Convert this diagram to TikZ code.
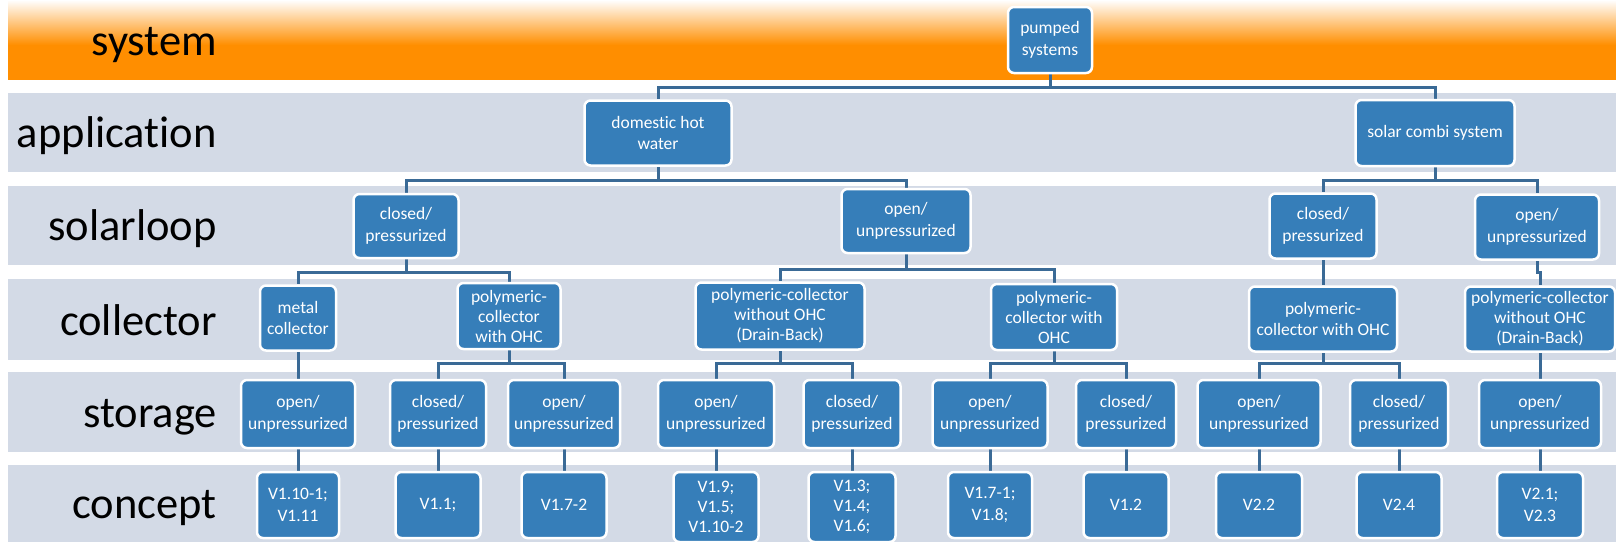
\documentclass[tikz,border=0pt]{standalone}
\usepackage{fontspec}
\setmainfont{Carlito}[Ligatures={NoCommon,NoRequired,NoContextual}]
\pgfdeclarelayer{background}
\pgfsetlayers{background,main}
\definecolor{bandc}{RGB}{211,218,230}
\definecolor{orangec}{RGB}{255,142,0}
\definecolor{boxc}{RGB}{54,126,185}
\definecolor{linec}{RGB}{58,106,150}
\tikzset{
 box/.style={draw=white, line width=2.5pt, fill=boxc, rounded corners=6pt, text=white, align=center, inner sep=1pt, font=\fontsize{17.5}{21.5}\selectfont},
 tight/.style={font=\fontsize{17.5}{20}\selectfont},
 conn/.style={draw=linec, line width=3pt},
 lbl/.style={anchor=base east, font=\fontsize{44.5}{50}\selectfont, inner sep=0pt, text=black},
 band/.style={fill=bandc},
}
\newcommand\bx[7][]{\node[box, #1, minimum width=#5pt, minimum height=#6pt] (#2) at (#3,#4) {#7};}
\newcommand\cn[3]{\draw[conn] (#1.south) -- (#1.south |- 0,#3) -| (#2.north);}
\begin{document}
\begin{tikzpicture}[x=1pt,y=-1pt]
\useasboundingbox (0,0) rectangle (1616,542);
\begin{pgfonlayer}{background}
\shade[top color=white, bottom color=orangec] (8,0) rectangle (1616,45);
\fill[orangec] (8,44.5) rectangle (1616,80);
\fill[band] (8,93) rectangle (1616,172);
\fill[band] (8,186) rectangle (1616,265);
\fill[band] (8,279) rectangle (1616,360);
\fill[band] (8,372) rectangle (1616,452);
\fill[band] (8,465) rectangle (1616,542);
\end{pgfonlayer}
\node[lbl] (l1) at (217,55) {system};
\node[lbl] (l2) at (217,147) {application};
\node[lbl] (l3) at (217,240) {solarloop};
\node[lbl] (l4) at (217,335) {collector};
\node[lbl] (l5) at (217,427) {storage};
\node[lbl] (l6) at (217,518) {concept};
% system / application
\bx{ps}{1050}{40}{84}{66}{pumped\\systems}
\bx{dhw}{658}{133}{147}{65}{domestic hot\\water}
\bx{scs}{1435}{133}{159}{66}{solar combi system}
% solarloop
\bx{sa}{406}{226}{105}{64}{closed/\\pressurized}
\bx{sb}{906}{221}{129}{64}{open/\\unpressurized}
\bx{sc}{1323}{226}{107}{65}{closed/\\pressurized}
\bx{sd}{1537}{227}{124}{65}{open/\\unpressurized}
% collector
\bx{ca}{298}{318}{76}{65}{metal\\collector}
\bx[tight]{cb}{509}{316}{103}{66}{polymeric-\\collector\\with OHC}
\bx[tight]{cc}{780}{316}{169}{67}{polymeric-collector\\without OHC\\(Drain-Back)}
\bx[tight]{cd}{1054}{317}{126}{66}{polymeric-\\collector with\\OHC}
\bx{ce}{1323}{319}{148}{65}{polymeric-\\collector with OHC}
\bx[tight]{cf}{1540}{319}{150}{65}{polymeric-collector\\without OHC\\(Drain-Back)}
% storage
\bx{ta}{298}{414}{114}{68}{open/\\unpressurized}
\bx{tb}{438}{414}{96}{68}{closed/\\pressurized}
\bx{tc}{564}{414}{112}{68}{open/\\unpressurized}
\bx{td}{716}{414}{116}{68}{open/\\unpressurized}
\bx{te}{852}{414}{97}{68}{closed/\\pressurized}
\bx{tf}{990}{414}{115}{68}{open/\\unpressurized}
\bx{tg}{1126}{414}{100}{68}{closed/\\pressurized}
\bx{th}{1259}{414}{123}{68}{open/\\unpressurized}
\bx{ti}{1399}{414}{98}{68}{closed/\\pressurized}
\bx{tj}{1540}{414}{122}{68}{open/\\unpressurized}
% concept
\bx{ka}{298}{505}{82}{66}{V1.10-1;\\V1.11}
\bx{kb}{438}{505}{85}{66}{V1.1;}
\bx{kc}{564}{505}{85}{66}{V1.7-2}
\bx[tight]{kd}{716}{507}{85}{70}{V1.9;\\V1.5;\\V1.10-2}
\bx[tight]{ke}{852}{507}{87}{70}{V1.3;\\V1.4;\\V1.6;}
\bx{kf}{990}{505}{84}{66}{V1.7-1;\\V1.8;}
\bx{kg}{1126}{505}{85}{66}{V1.2}
\bx{kh}{1259}{505}{86}{66}{V2.2}
\bx{ki}{1399}{505}{85}{66}{V2.4}
\bx{kj}{1540}{505}{86}{66}{V2.1;\\V2.3}
\begin{pgfonlayer}{background}
\cn{ps}{dhw}{87} \cn{ps}{scs}{87}
\cn{dhw}{sa}{180} \cn{dhw}{sb}{180}
\cn{scs}{sc}{180} \cn{scs}{sd}{180}
\cn{sa}{ca}{272} \cn{sa}{cb}{272}
\cn{sb}{cc}{269} \cn{sb}{cd}{269}
\cn{sc}{ce}{272} \cn{sd}{cf}{272}
\cn{ca}{ta}{365}
\cn{cb}{tb}{363} \cn{cb}{tc}{363}
\cn{cc}{td}{363} \cn{cc}{te}{363}
\cn{cd}{tf}{363} \cn{cd}{tg}{363}
\cn{ce}{th}{363} \cn{ce}{ti}{363}
\cn{cf}{tj}{363}
\cn{ta}{ka}{460} \cn{tb}{kb}{460} \cn{tc}{kc}{460} \cn{td}{kd}{460} \cn{te}{ke}{460}
\cn{tf}{kf}{460} \cn{tg}{kg}{460} \cn{th}{kh}{460} \cn{ti}{ki}{460} \cn{tj}{kj}{460}
\end{pgfonlayer}
\end{tikzpicture}
\end{document}
